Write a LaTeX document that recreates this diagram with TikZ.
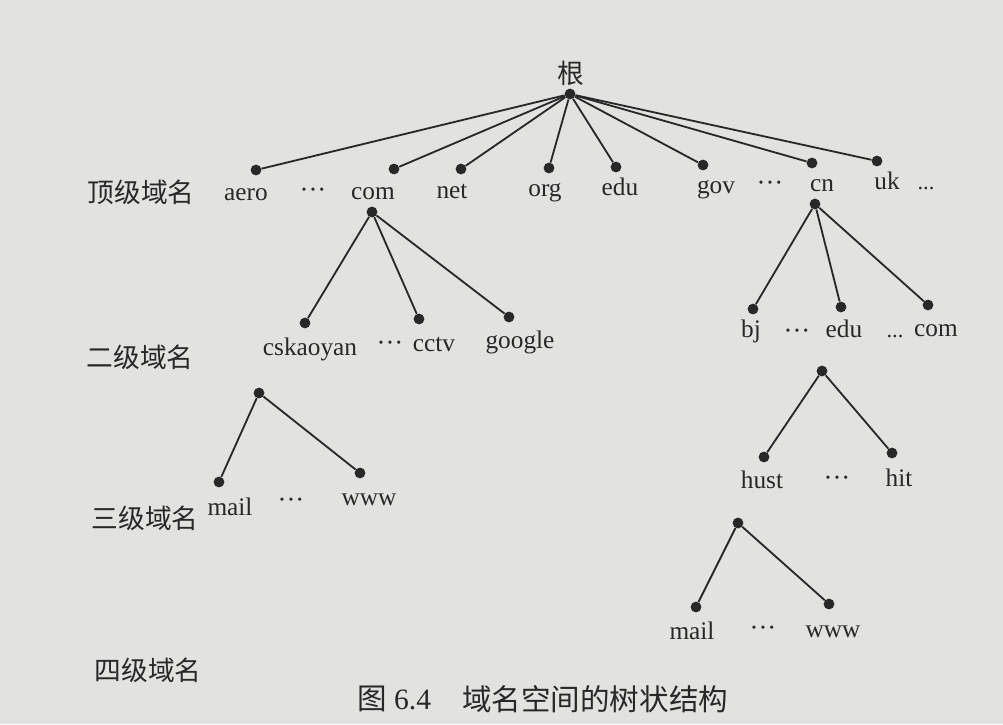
\documentclass[tikz,border=0pt]{standalone}
\usepackage{fontspec}
\setmainfont{Liberation Serif}
\newfontfamily\cjk{Noto Sans CJK SC}
\definecolor{paper}{RGB}{226,226,224}
\definecolor{ink}{RGB}{40,40,40}
\tikzset{
  vtx/.style={circle,fill=ink,inner sep=0pt,minimum size=0.27cm},
  edge/.style={draw=ink,line width=1.3pt},
  lbl/.style={anchor=base,inner sep=0pt,text=ink,font=\fontsize{18}{20}\selectfont},
  ell/.style={anchor=base,inner sep=0pt,text=ink,font=\fontsize{19}{20}\selectfont},
  lvl/.style={anchor=center,inner sep=0pt,text=ink,font=\cjk\fontsize{19}{21}\selectfont},
  captionstyle/.style={anchor=center,inner sep=0pt,text=ink,font=\fontsize{21}{24}\selectfont}
}
\begin{document}
\begin{tikzpicture}[x=0.025cm,y=-0.025cm]
\fill[paper] (0,0) rectangle (1003,724);
\useasboundingbox (0,0) rectangle (1003,724);

% root
\node[lvl] (lroot) at (571,73) {根};
\node[vtx] (r) at (570,94) {};

% top level dots
\node[vtx] (taero) at (256,170) {};
\node[vtx] (tcom) at (394,169) {};
\node[vtx] (tnet) at (461,169) {};
\node[vtx] (torg) at (549,168) {};
\node[vtx] (tedu) at (616,167) {};
\node[vtx] (tgov) at (703,165) {};
\node[vtx] (tcn) at (812,163) {};
\node[vtx] (tuk) at (877,161) {};
\foreach \n in {taero,tcom,tnet,torg,tedu,tgov,tcn,tuk} \draw[edge] (r) -- (\n);

% top level labels
\node[lvl] (l1) at (141,192) {顶级域名};
\node[lbl] (xaero) at (246,200) {aero};
\node[ell] (xd1) at (313,198) {···};
\node[lbl] (xcom) at (373,199) {com};
\node[lbl] (xnet) at (452,198) {net};
\node[lbl] (xorg) at (545,196) {org};
\node[lbl] (xedu) at (620,195) {edu};
\node[lbl] (xgov) at (716,193) {gov};
\node[ell] (xd2) at (770,191) {···};
\node[lbl] (xcn) at (822,191) {cn};
\node[lbl] (xuk) at (887,189) {uk};
\node[lbl,font=\fontsize{16}{18}\selectfont] (xd3) at (926,189) {...};

% com subtree
\node[vtx] (c0) at (372,212) {};
\node[vtx] (ccsk) at (305,323) {};
\node[vtx] (ccctv) at (419,319) {};
\node[vtx] (cgoog) at (509,317) {};
\draw[edge] (c0) -- (ccsk);
\draw[edge] (c0) -- (ccctv);
\draw[edge] (c0) -- (cgoog);
\node[lvl] (l2) at (140,357) {二级域名};
\node[lbl] (ycsk) at (310,355) {cskaoyan};
\node[ell] (yd1) at (390,351) {···};
\node[lbl] (ycctv) at (434,351) {cctv};
\node[lbl] (ygoog) at (520,348) {google};

% third level (left)
\node[vtx] (m0) at (259,393) {};
\node[vtx] (mmail) at (219,482) {};
\node[vtx] (mwww) at (360,473) {};
\draw[edge] (m0) -- (mmail);
\draw[edge] (m0) -- (mwww);
\node[lvl] (l3) at (145,518) {三级域名};
\node[lbl] (zmail) at (230,515) {mail};
\node[ell] (zd1) at (291,508) {···};
\node[lbl] (zwww) at (369,505) {www};

% cn subtree
\node[vtx] (n0) at (815,204) {};
\node[vtx] (nbj) at (753,309) {};
\node[vtx] (nedu) at (841,307) {};
\node[vtx] (ncom) at (928,305) {};
\draw[edge] (n0) -- (nbj);
\draw[edge] (n0) -- (nedu);
\draw[edge] (n0) -- (ncom);
\node[lbl] (ybj) at (751,337) {bj};
\node[ell] (yd2) at (797,339) {···};
\node[lbl] (yedu) at (844,337) {edu};
\node[lbl,font=\fontsize{16}{18}\selectfont] (yd3) at (895,337) {...};
\node[lbl] (ycom) at (936,336) {com};

% edu subtree
\node[vtx] (n2) at (822,371) {};
\node[vtx] (nhust) at (764,457) {};
\node[vtx] (nhit) at (892,453) {};
\draw[edge] (n2) -- (nhust);
\draw[edge] (n2) -- (nhit);
\node[lbl] (zhust) at (762,488) {hust};
\node[ell] (zd2) at (837,486) {···};
\node[lbl] (zhit) at (899,486) {hit};

% fourth level
\node[vtx] (n3) at (738,523) {};
\node[vtx] (nmail) at (696,607) {};
\node[vtx] (nwww) at (829,604) {};
\draw[edge] (n3) -- (nmail);
\draw[edge] (n3) -- (nwww);
\node[lbl] (wmail) at (692,639) {mail};
\node[ell] (wd) at (763,636) {···};
\node[lbl] (wwww) at (833,637) {www};
\node[lvl] (l4) at (148,670) {四级域名};

% caption
\node[captionstyle,anchor=west] (capnum) at (357,699) {{\cjk 图} 6.4};
\node[captionstyle,anchor=west] (captxt) at (462,699) {\cjk 域名空间的树状结构};
\end{tikzpicture}
\end{document}
